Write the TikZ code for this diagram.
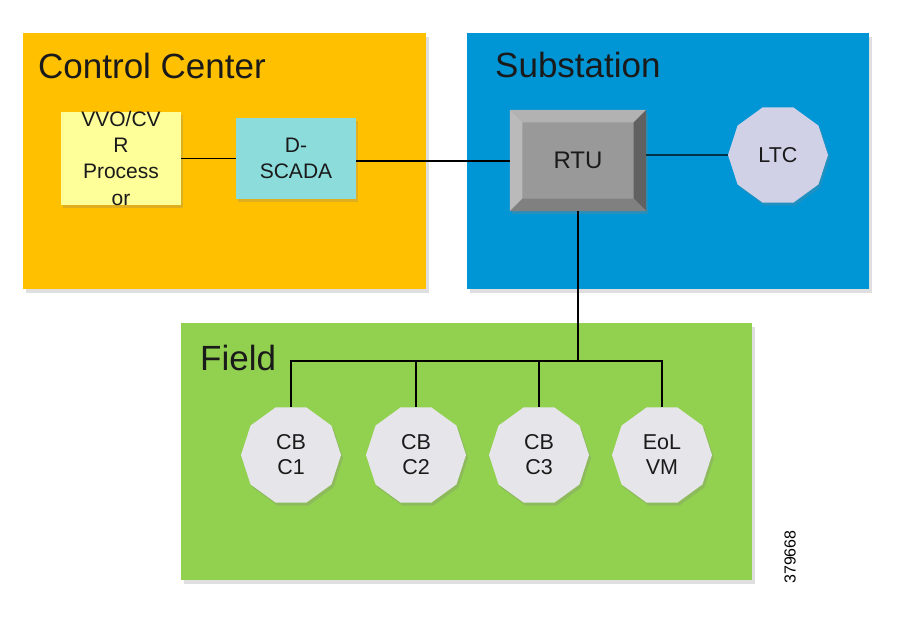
\documentclass[tikz,border=0pt]{standalone}
\usepackage{fontspec}
\setmainfont{Liberation Sans}
\usetikzlibrary{shapes.geometric,shadows}
\definecolor{ccorange}{HTML}{FFC000}
\definecolor{subblue}{HTML}{0096D6}
\definecolor{fieldgreen}{HTML}{92D050}
\definecolor{procyellow}{HTML}{FFFF99}
\definecolor{scadateal}{HTML}{8CDCDC}
\definecolor{ltclav}{HTML}{D0D0E6}
\definecolor{devgray}{HTML}{E6E6EA}
\definecolor{textblack}{HTML}{1A1A1A}

\begin{document}
\begin{tikzpicture}[
    x=1pt, y=-1pt,
    area/.style={draw=none, drop shadow={shadow xshift=3pt, shadow yshift=-4pt, opacity=0.25}},
    title/.style={anchor=west, inner sep=0pt, text=textblack, font=\fontsize{35}{40}\selectfont},
    app/.style={draw=none, minimum width=120pt, minimum height=81pt, inner sep=0pt, align=center,
      text=textblack, font=\fontsize{21}{26.5}\selectfont,
      drop shadow={shadow xshift=2pt, shadow yshift=-3pt, opacity=0.25}},
    device/.style={regular polygon, regular polygon sides=10, minimum size=100pt, inner sep=0pt,
      draw=none, align=center, text=textblack, font=\fontsize{21.5}{25}\selectfont,
      drop shadow={shadow xshift=2pt, shadow yshift=-3pt, opacity=0.25}},
    link/.style={line width=1.4pt, black}
  ]
  \useasboundingbox (0,0) rectangle (900,635);

  % Areas
  \fill[area, ccorange] (23,33) rectangle (426,289);
  \fill[area, subblue] (467,33) rectangle (869,289);
  \fill[area, fieldgreen] (181,323) rectangle (752,580);
  \node[title] (cctitle) at (38,66) {Control Center};
  \node[title] (subtitle) at (495,65) {Substation};
  \node[title] (fieldtitle) at (200,358) {Field};

  % Control center applications
  \node[app, fill=procyellow] (vvo) at (121,158.5) {\raisebox{-1pt}{VVO/CV}\\R\\Process\\or};
  \node[app, fill=scadateal] (dscada) at (296,158.5) {D-\\SCADA};

  % RTU with bevelled edges
  \node[draw=none, fill=black!40, minimum width=136pt, minimum height=101pt, inner sep=0pt,
    drop shadow={shadow xshift=2pt, shadow yshift=-3pt, opacity=0.3}] (rtu) at (578,160.5) {};
  \node[fill=black!40, minimum width=111pt, minimum height=76pt, inner sep=0pt,
    text=textblack, font=\fontsize{24}{28}\selectfont] (rtuface) at (578,160.5) {\raisebox{-2pt}{RTU}};
  \fill[black!30] (rtu.north west) -- (rtu.north east) -- (rtuface.north east) -- (rtuface.north west) -- cycle;
  \fill[black!27] (rtu.north west) -- (rtuface.north west) -- (rtuface.south west) -- (rtu.south west) -- cycle;
  \fill[black!62] (rtu.north east) -- (rtuface.north east) -- (rtuface.south east) -- (rtu.south east) -- cycle;
  \fill[black!50] (rtu.south west) -- (rtuface.south west) -- (rtuface.south east) -- (rtu.south east) -- cycle;

  \node[device, fill=ltclav] (ltc) at (778,155) {LTC};

  % Field devices
  \node[device, fill=devgray] (cbc1) at (291,455) {CB\\C1};
  \node[device, fill=devgray] (cbc2) at (416,455) {CB\\C2};
  \node[device, fill=devgray] (cbc3) at (539,455) {CB\\C3};
  \node[device, fill=devgray] (eolvm) at (662,455) {EoL\\VM};
  \coordinate (bus) at (578,361);

  % Links
  \draw[link] (vvo.east) -- (dscada.west);
  \draw[link] (dscada.east |- 0,161) -- (rtu.west |- 0,161);
  \draw[link] (rtu.east |- ltc) -- (ltc.west);
  \draw[link] (rtu.south) -- (bus);
  \draw[link] (bus) -| (cbc1.north);
  \draw[link] (bus) -| (cbc2.north);
  \draw[link] (bus) -| (cbc3.north);
  \draw[link] (bus) -| (eolvm.north);

  \node[rotate=90, inner sep=0pt, font=\fontsize{16}{18}\selectfont] (figid) at (790,557) {379668};
\end{tikzpicture}
\end{document}
